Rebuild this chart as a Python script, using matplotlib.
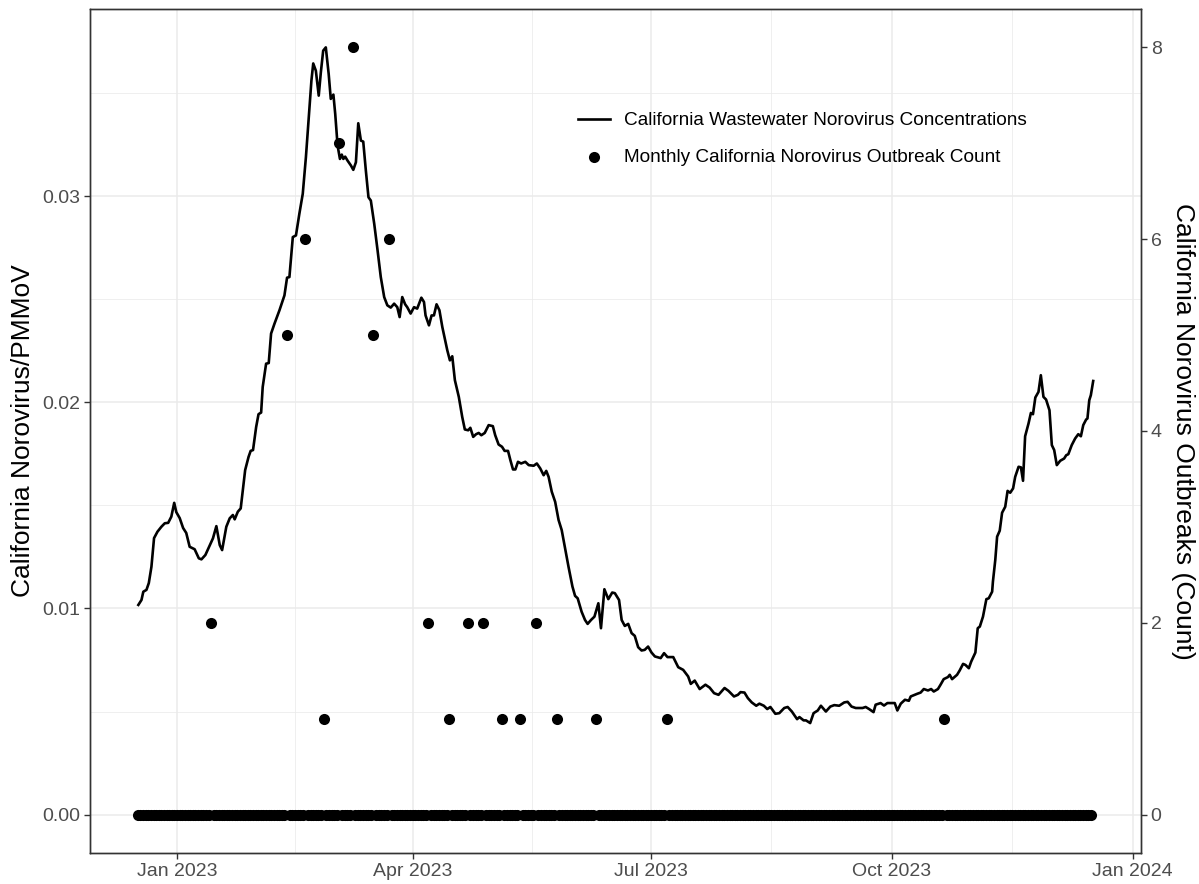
import numpy as np
import matplotlib
matplotlib.use('Agg')
import matplotlib.pyplot as plt
import matplotlib.dates as mdates

plt.rcParams['font.family'] = ['Liberation Sans', 'DejaVu Sans']

# first day of the series, and how many daily observations there are
start = np.datetime64('2022-12-17')
n_days = 365

# wastewater concentration (Norovirus/PMMoV), days after start
line_days = [
    0.2, 1.4, 2.1, 3.3, 4.2, 5.2, 6.2, 7.5, 9.0, 10.3, 11.6, 12.8, 13.9, 14.7, 16.0, 17.3,
    18.5, 19.8, 21.7, 23.3, 24.3, 25.8, 27.5, 28.7, 30.0, 31.3, 32.2, 33.8, 35.1, 36.3, 37.0,
    38.2, 39.3, 40.1, 41.0, 42.3, 43.1, 44.0, 45.2, 46.1, 47.1, 47.7, 49.0, 50.0, 50.9, 52.2,
    54.1, 56.0, 57.0, 57.9, 59.2, 60.4, 61.7, 63.0, 64.2, 65.5, 66.3, 67.0, 68.0, 69.1, 69.9,
    70.8, 71.8, 72.9, 73.7, 74.7, 75.4, 76.3, 77.2, 77.9, 78.5, 79.2, 80.1, 81.4, 82.3, 83.3,
    84.2, 85.2, 86.1, 87.1, 88.1, 89.0, 90.3, 91.5, 92.8, 94.1, 95.3, 96.6, 97.9, 99.1, 100.0,
    101.0, 102.1, 102.9, 104.2, 105.5, 106.7, 108.3, 109.3, 109.9, 111.2, 112.2, 113.1, 114.1,
    115.2, 116.3, 118.2, 119.2, 120.1, 121.1, 122.6, 123.9, 124.9, 126.2, 127.0, 128.1, 129.2,
    130.2, 131.2, 132.5, 134.0, 135.6, 136.5, 137.8, 139.1, 140.1, 141.4, 142.3, 143.3, 144.2,
    145.2, 146.4, 148.0, 149.3, 151.2, 152.4, 153.7, 155.0, 156.0, 156.9, 158.1, 159.4, 160.7,
    161.9, 163.2, 164.5, 166.0, 167.0, 168.0, 169.5, 170.8, 171.8, 173.1, 174.4, 175.9, 176.9,
    178.2, 179.7, 181.2, 182.2, 183.8, 184.8, 186.0, 187.3, 188.6, 189.8, 191.1, 192.4, 193.6,
    194.9, 196.2, 197.5, 199.7, 201.0, 202.3, 204.5, 206.4, 208.3, 210.2, 211.2, 212.7, 214.6,
    216.8, 218.4, 220.1, 221.8, 224.1, 225.6, 227.7, 229.2, 230.2, 231.7, 233.0, 234.5, 236.2,
    237.4, 239.1, 240.4, 241.6, 243.5, 245.0, 246.9, 248.2, 249.8, 251.8, 252.7, 254.3, 255.2,
    256.8, 258.1, 259.7, 260.9, 262.8, 264.5, 266.0, 267.9, 269.8, 271.1, 272.6, 274.2, 276.8,
    278.0, 279.3, 281.0, 281.8, 283.7, 285.0, 286.3, 289.1, 290.1, 291.4, 293.0, 294.5, 295.2,
    297.7, 299.0, 300.2, 301.8, 303.0, 304.0, 305.6, 306.6, 307.8, 309.4, 310.1, 311.0, 312.9,
    313.9, 315.2, 316.1, 317.4, 318.3, 319.9, 320.8, 321.6, 322.8, 324.1, 325.0, 326.3, 326.6,
    327.5, 328.2, 329.2, 330.1, 331.3, 332.2, 333.2, 334.3, 335.1, 336.4, 337.3, 338.1, 338.9,
    340.2, 341.1, 341.9, 342.8, 344.0, 344.9, 345.9, 346.9, 348.2, 349.1, 350.0, 351.0, 352.3,
    353.8, 354.6, 355.4, 356.7, 358.0, 359.2, 360.2, 361.1, 362.2, 362.7, 363.4, 364.0, 364.9,
]
line_conc = [
    .01017, .01041, .01081, .01090, .01123, .01202, .01341, .01372, .01396, .01413, .01415,
    .01445, .01512, .01467, .01438, .01390, .01366, .01299, .01287, .01243, .01238, .01259,
    .01307, .01340, .01399, .01307, .01283, .01396, .01437, .01453, .01432, .01469, .01485,
    .01574, .01671, .01735, .01764, .01768, .01880, .01942, .01950, .02074, .02187, .02190,
    .02333, .02381, .02446, .02518, .02604, .02607, .02801, .02809, .02914, .03011, .03188,
    .03414, .03559, .03643, .03608, .03487, .03599, .03705, .03721, .03592, .03471, .03492,
    .03398, .03245, .03180, .03201, .03180, .03191, .03172, .03148, .03127, .03164, .03353,
    .03269, .03264, .03123, .02994, .02978, .02865, .02744, .02607, .02510, .02470, .02459,
    .02478, .02461, .02413, .02510, .02475, .02461, .02430, .02461, .02454, .02507, .02486,
    .02421, .02373, .02421, .02421, .02475, .02446, .02365, .02252, .02203, .02223, .02107,
    .02026, .01929, .01868, .01864, .01876, .01832, .01845, .01851, .01840, .01851, .01889,
    .01884, .01840, .01795, .01784, .01764, .01764, .01719, .01674, .01674, .01711, .01703,
    .01711, .01695, .01692, .01703, .01679, .01646, .01667, .01638, .01566, .01517, .01429,
    .01380, .01292, .01202, .01106, .01061, .01049, .00984, .00944, .00925, .00944, .00960,
    .01025, .00904, .01093, .01045, .01077, .01074, .01041, .00944, .00915, .00925, .00880,
    .00867, .00812, .00796, .00799, .00815, .00786, .00767, .00759, .00783, .00764, .00764,
    .00715, .00702, .00670, .00634, .00650, .00609, .00630, .00616, .00589, .00581, .00614,
    .00600, .00573, .00581, .00594, .00592, .00565, .00544, .00528, .00538, .00528, .00512,
    .00522, .00489, .00492, .00517, .00522, .00500, .00463, .00473, .00457, .00457, .00444,
    .00492, .00505, .00528, .00500, .00524, .00531, .00528, .00544, .00547, .00524, .00517,
    .00517, .00522, .00512, .00497, .00533, .00541, .00529, .00541, .00541, .00505, .00538,
    .00557, .00552, .00573, .00586, .00592, .00609, .00602, .00609, .00597, .00609, .00630,
    .00657, .00667, .00678, .00657, .00678, .00699, .00731, .00726, .00710, .00742, .00786,
    .00904, .00912, .00960, .01045, .01049, .01081, .01130, .01235, .01348, .01377, .01464,
    .01493, .01570, .01561, .01582, .01638, .01687, .01684, .01619, .01835, .01897, .01948,
    .01942, .02023, .02050, .02131, .02026, .02013, .01961, .01792, .01768, .01695, .01716,
    .01727, .01743, .01748, .01792, .01824, .01845, .01835, .01889, .01916, .01921, .02010,
    .02034, .02103,
]

# outbreak counts on the days that had any (all other days are 0)
outbreak_dates = [
    '2023-01-14', '2023-02-12', '2023-02-19', '2023-02-26', '2023-03-04', '2023-03-09',
    '2023-03-17', '2023-03-23', '2023-04-07', '2023-04-15', '2023-04-22', '2023-04-28',
    '2023-05-05', '2023-05-12', '2023-05-18', '2023-05-26', '2023-06-10', '2023-07-07',
    '2023-10-21',
]
outbreak_counts = [2, 5, 6, 1, 7, 8, 5, 6, 2, 1, 2, 2, 1, 1, 2, 1, 1, 1, 1]

line_label = 'California Wastewater Norovirus Concentrations'
dots_label = 'Monthly California Norovirus Outbreak Count'

# daily count series
days = start + np.arange(n_days)
counts = np.zeros(n_days)
for d, c in zip(outbreak_dates, outbreak_counts):
    counts[int((np.datetime64(d) - start).astype(int))] = c

x_line = mdates.date2num(start) + np.array(line_days)
x_dots = mdates.date2num(days)

# secondary axis scale: max count sits at max concentration
ymax = max(line_conc)
k = ymax / max(outbreak_counts)

fig = plt.figure(figsize=(11.99, 8.84), dpi=100)
ax = fig.add_axes([0.0751, 0.0351, 0.8765, 0.9547])
ax2 = ax.twinx()

ax.plot(x_line, line_conc, color='black', lw=1.9, label=line_label, zorder=3)
ax2.scatter(x_dots, counts, s=64, color='black', linewidths=0, label=dots_label, zorder=3)

x0, x1 = x_dots[0], x_line[-1]
pad = 0.05 * (x1 - x0)
ax.set_xlim(x0 - pad, x1 + pad)
ax.set_ylim(-0.05 * ymax, 1.05 * ymax)
ax2.set_ylim(-0.05 * ymax / k, 1.05 * ymax / k)

# x axis: quarterly ticks, minor gridlines halfway between
majors = mdates.date2num(np.array(['2023-01-01', '2023-04-01', '2023-07-01',
                                   '2023-10-01', '2024-01-01'], dtype='datetime64[D]'))
ax.set_xticks(majors)
ax.set_xticklabels(['Jan 2023', 'Apr 2023', 'Jul 2023', 'Oct 2023', 'Jan 2024'])
ax.set_xticks((majors[:-1] + majors[1:]) / 2, minor=True)

ax.set_yticks([0.0, 0.01, 0.02, 0.03])
ax.set_yticklabels(['0.00', '0.01', '0.02', '0.03'])
ax.set_yticks([0.005, 0.015, 0.025, 0.035], minor=True)
ax2.set_yticks([0, 2, 4, 6, 8])

ax.grid(which='major', color='#EBEBEB', lw=1.1)
ax.grid(which='minor', color='#EBEBEB', lw=0.55)
ax.set_axisbelow(True)

for a in (ax, ax2):
    for sp in a.spines.values():
        sp.set_color('#333333')
        sp.set_linewidth(1.0)
    a.tick_params(which='major', direction='out', length=4, width=1.0, color='#333333',
                  labelcolor='#4D4D4D', labelsize=14, pad=3)
    a.tick_params(which='minor', length=0)

ax.set_ylabel('California Norovirus/PMMoV', fontsize=19, labelpad=5)
ax2.set_ylabel('California Norovirus Outbreaks (Count)', fontsize=19, rotation=270,
               va='bottom', labelpad=7)

h1, l1 = ax.get_legend_handles_labels()
h2, l2 = ax2.get_legend_handles_labels()
fig.legend(h1 + h2, l1 + l2, loc='upper left', bbox_to_anchor=(578 / 1199, 1 - 112 / 884),
           frameon=False, fontsize=13.7, handlelength=1.7, handletextpad=0.7,
           labelspacing=1.0, borderpad=0, borderaxespad=0)

fig.savefig('out.png', dpi=100)
